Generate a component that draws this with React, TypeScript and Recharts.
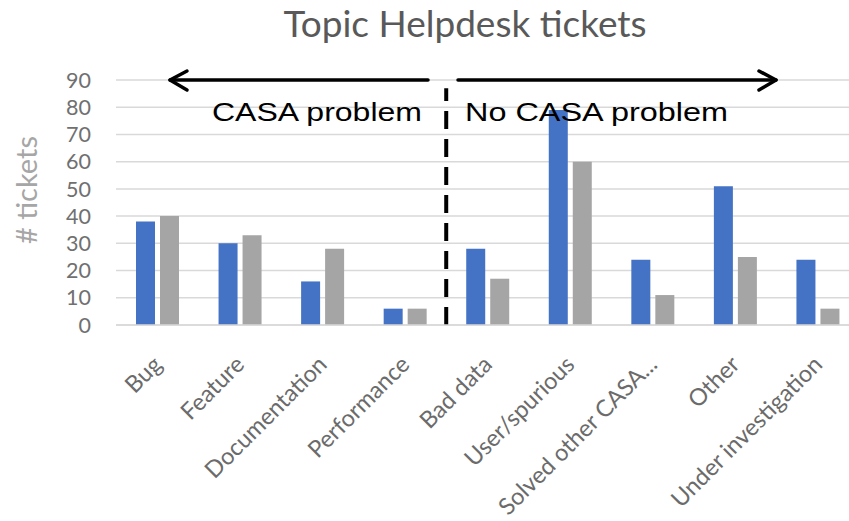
import { BarChart, Bar, XAxis, YAxis, CartesianGrid, ReferenceLine } from "recharts"

const categories = [
  "Bug",
  "Feature",
  "Documentation",
  "Performance",
  "Bad data",
  "User/spurious",
  "Solved other CASA...",
  "Other",
  "Under investigation",
]
const blueTickets = [38, 30, 16, 6, 28, 79, 24, 51, 24]
const grayTickets = [40, 33, 28, 6, 17, 60, 11, 25, 6]
const yTicks = [0, 10, 20, 30, 40, 50, 60, 70, 80, 90]

const data = categories.map((name, i) => ({ name, blue: blueTickets[i], gray: grayTickets[i] }))

const FONT = "Lato, 'Open Sans', sans-serif"

function XTick({ x, y, payload }: any) {
  return (
    <text
      transform={`translate(${x + 6}, ${y + 33}) rotate(-45)`}
      textAnchor="end"
      fontFamily={FONT}
      fontSize={23.5}
      fill="#6b6b6b"
    >
      {payload.value}
    </text>
  )
}

export default function App() {
  return (
    <div style={{ position: "absolute", left: 0, top: 0, width: 849, height: 521, overflow: "hidden", background: "#fff" }}>
      <BarChart
        width={859}
        height={521}
        data={data}
        margin={{ top: 80, right: 0, bottom: 0, left: 0 }}
        barSize={19}
        barGap={5}
      >
        <CartesianGrid vertical={false} stroke="#d9d9d9" strokeWidth={1.5} />
        <XAxis
          dataKey="name"
          height={196}
          interval={0}
          axisLine={{ stroke: "#d9d9d9", strokeWidth: 1.5 }}
          tickLine={false}
          tick={<XTick />}
        />
        <YAxis
          width={116}
          domain={[0, 90]}
          ticks={yTicks}
          interval={0}
          axisLine={false}
          tickLine={false}
          tickMargin={19}
          tick={{ fontFamily: FONT, fontSize: 21.5, fill: "#707070" }}
        />
        <Bar dataKey="blue" fill="#4472C4" isAnimationActive={false} />
        <Bar dataKey="gray" fill="#A5A5A5" isAnimationActive={false} />
        <ReferenceLine
          segment={[{ x: "Performance", y: 0 }, { x: "Performance", y: 87 }]}
          position="end"
          stroke="#000"
          strokeWidth={4}
          strokeDasharray="18 10"
        />
      </BarChart>
      <svg
        width={849}
        height={521}
        style={{ position: "absolute", left: 0, top: 0, pointerEvents: "none" }}
      >
        <text x={465} y={37} textAnchor="middle" fontFamily={FONT} fontSize={37} fill="#595959">
          Topic Helpdesk tickets
        </text>
        <text
          transform="translate(37, 190) rotate(-90)"
          textAnchor="middle"
          fontFamily={FONT}
          fontSize={29}
          fill="#a6a6a6"
        >
          # tickets
        </text>
        <g stroke="#000" strokeWidth={3.5} fill="none" strokeLinecap="round" strokeLinejoin="round">
          <line x1={428} y1={80} x2={170} y2={80} />
          <polyline points="187,71 170,80 187,90" />
          <line x1={458} y1={80} x2={776} y2={80} />
          <polyline points="759,71 776,80 759,90" />
        </g>
        <text
          x={212}
          y={121}
          fontFamily="'Liberation Sans', Arial, sans-serif"
          fontSize={25}
          fill="#000"
          textLength={210}
          lengthAdjust="spacingAndGlyphs"
        >
          CASA problem
        </text>
        <text
          x={465}
          y={121}
          fontFamily="'Liberation Sans', Arial, sans-serif"
          fontSize={25}
          fill="#000"
          textLength={263}
          lengthAdjust="spacingAndGlyphs"
        >
          No CASA problem
        </text>
      </svg>
    </div>
  )
}
